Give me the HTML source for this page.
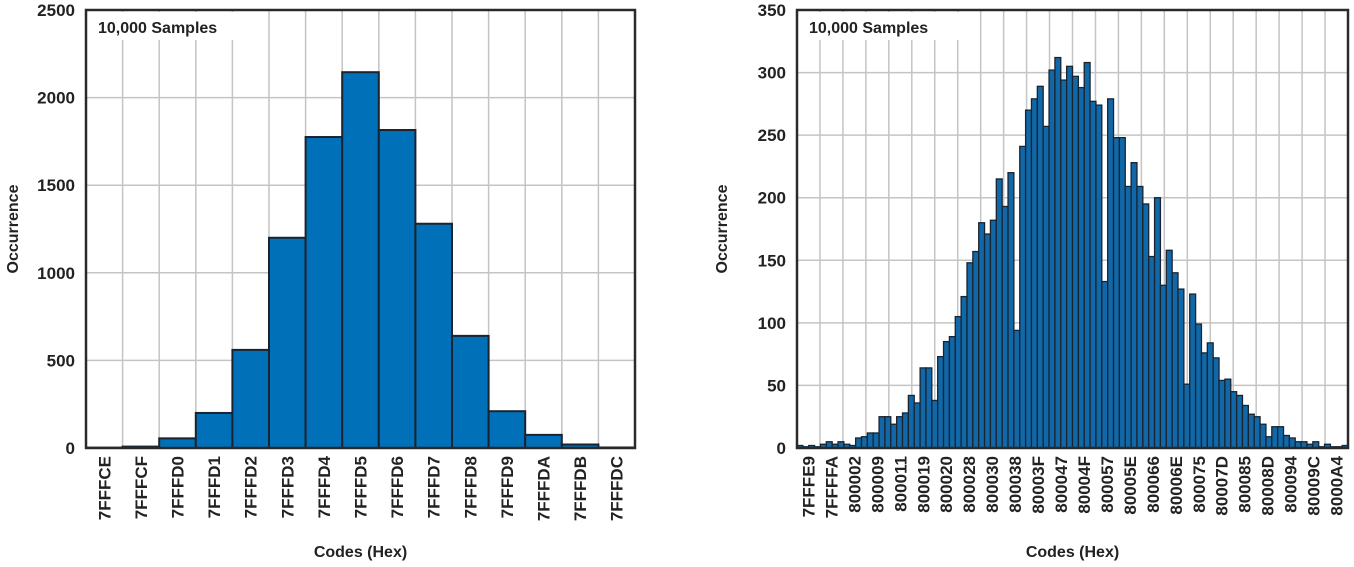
<!DOCTYPE html>
<html><head><meta charset="utf-8"><style>
html,body{margin:0;padding:0;background:#fff;}
svg{display:block;font-family:"Liberation Sans",sans-serif;font-weight:bold;}
</style></head><body>
<svg id="s" width="1354" height="567" viewBox="0 0 1354 567"></svg>
<script>
const leftCats = ["7FFFCE","7FFFCF","7FFFD0","7FFFD1","7FFFD2","7FFFD3","7FFFD4","7FFFD5","7FFFD6","7FFFD7","7FFFD8","7FFFD9","7FFFDA","7FFFDB","7FFFDC"];
const leftVals = [2,8,55,200,560,1200,1775,2145,1815,1280,640,210,75,20,3];
const leftTicks = [0,500,1000,1500,2000,2500];
const rightLabels = ["7FFFE9","7FFFFA","800002","800009","800011","800019","800020","800028","800030","800038","80003F","800047","80004F","800057","80005E","800066","80006E","800075","80007D","800085","80008D","800094","80009C","8000A4"];
const rightVals = [2,1,2,1,3,5,3,5,3,2,8,9,12,12,25,25,19,25,28,42,36,64,64,38,73,85,89,105,121,148,157,180,171,182,215,193,220,94,241,270,279,289,257,302,312,294,305,297,288,308,277,274,133,279,248,248,209,228,209,195,153,200,130,158,140,127,51,123,99,76,84,72,54,55,45,42,34,27,25,19,9,17,17,10,8,5,5,3,5,1,3,1,1,2];
const rightTicks = [0,50,100,150,200,250,300,350];

const NS="http://www.w3.org/2000/svg";
const svg=document.getElementById('s');
function mk(tag,attrs,parent){const e=document.createElementNS(NS,tag);for(const k in attrs)e.setAttribute(k,attrs[k]);(parent||svg).appendChild(e);return e;}

function chart(cfg){
  const g=mk('g',{});
  
  
  const x0=cfg.x0,x1=cfg.x1,y0=cfg.y0,y1=cfg.y1,max=cfg.max;
  const Y=v=>y1-(v/max)*(y1-y0);
  cfg.ticks.forEach(t=>{
    if(t>0&&t<max){const l=mk('line',{x1:x0,x2:x1,y1:Y(t),y2:Y(t),stroke:'#c4c4c4','stroke-width':1.5},g);
    
    }
    const tx=mk('text',{x:x0-11,y:Y(t)+6,'text-anchor':'end','font-size':17,fill:'#222'},g);
    tx.textContent=t;
    
    
  });
  const nl=cfg.labels.length, lw=(x1-x0)/nl;
  for(let i=1;i<nl;i++){
    const l=mk('line',{x1:x0+i*lw,x2:x0+i*lw,y1:y0,y2:y1,stroke:'#c4c4c4','stroke-width':1.5},g);
    
    
  }
  const bx=mk('rect',{x:x0+2,y:y0+2,width:160,height:28,fill:'#fff'},g);
  
  
  const st=mk('text',{x:x0+12,y:y0+23,'font-size':16,fill:'#222'},g);
  st.textContent='10,000 Samples';
  
  
  const n=cfg.vals.length, bw=(x1-x0)/n;
  cfg.vals.forEach((v,i)=>{
    const r=mk('rect',{x:x0+i*bw,y:Y(v),width:bw,height:y1-Y(v),fill:cfg.fill,stroke:'#1a2430','stroke-width':cfg.sw},g);
    
    
  });
  const f=mk('rect',{x:x0,y:y0,width:x1-x0,height:y1-y0,fill:'none',stroke:'#2a2a2a','stroke-width':2.5},g);
  
  
  cfg.labels.forEach((lab,i)=>{
    const cx=x0+(i+0.5)*lw+6, ty=y1+8;
    const t=mk('text',{x:cx,y:ty,'text-anchor':'end','font-size':17,fill:'#222',transform:`rotate(-90 ${cx} ${ty})`},g);
    t.textContent=lab;
    
    
  });
  const xt=mk('text',{x:(x0+x1)/2,y:557,'text-anchor':'middle','font-size':16,fill:'#222'},g);
  xt.textContent='Codes (Hex)';
  
  
  const yx=cfg.ytx, yy=(y0+y1)/2;
  const yt=mk('text',{x:yx,y:yy,'text-anchor':'middle','font-size':16,fill:'#222',transform:`rotate(-90 ${yx} ${yy})`},g);
  yt.textContent='Occurrence';
  
  
}
chart({name:'left-histogram',x0:86,x1:635,y0:10,y1:448,max:2500,ticks:leftTicks,vals:leftVals,labels:leftCats,fill:'#0070b8',sw:2,ytx:18});
chart({name:'right-histogram',x0:797,x1:1348,y0:10,y1:448,max:350,ticks:rightTicks,vals:rightVals,labels:rightLabels,fill:'#1068a8',sw:1.3,ytx:727});
</script>
</body></html>
